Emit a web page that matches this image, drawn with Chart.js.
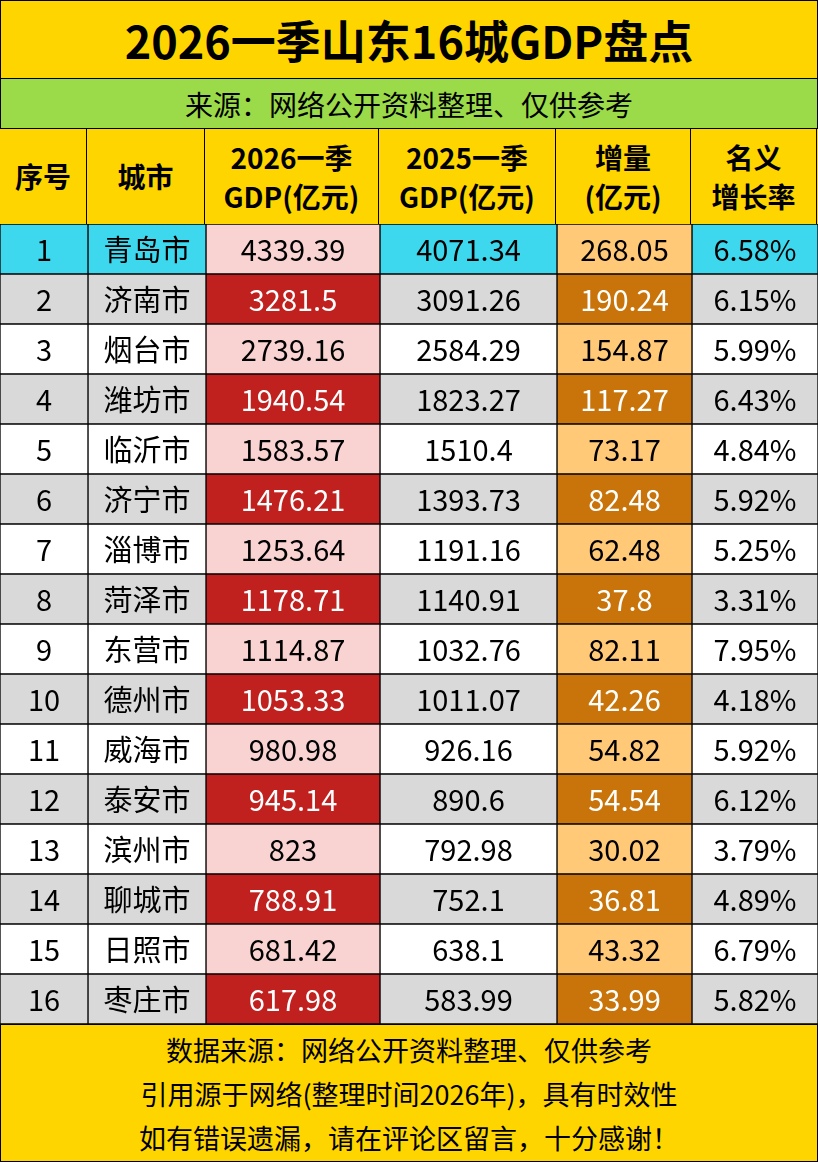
<!DOCTYPE html>
<html><head><meta charset="utf-8">
<script src="https://cdn.jsdelivr.net/npm/chart.js@4"></script>
<style>
body{margin:0;width:818px;height:1162px;background:#FFD500;font-family:"Noto Sans CJK SC","Noto Sans",sans-serif;position:relative;overflow:hidden}
.box{position:absolute;left:0;width:816px;border:1px solid #000;box-sizing:border-box;display:flex;align-items:center;justify-content:center;color:#000}
#title{top:0;height:79px;background:#FFD500;font-weight:bold;font-size:45px;width:818px}
#src{top:78px;height:51px;background:#9BDA48;font-size:28px;width:818px}
#hdr{position:absolute;top:128px;left:0;height:97px;width:818px;display:flex}
#hdr div{border:1px solid #000;box-sizing:border-box;margin-left:-1px;display:flex;align-items:center;justify-content:center;text-align:center;font-weight:bold;font-size:28px;line-height:39px;background:#FFD500}
#foot{position:absolute;top:1024px;left:0;width:818px;height:138px;border:1px solid #000;box-sizing:border-box;text-align:center;font-size:27px;line-height:44px;padding-top:3px}
#cv{position:absolute;top:224px;left:0}
</style></head><body>
<div class="box" id="title">2026一季山东16城GDP盘点</div>
<div class="box" id="src">来源：网络公开资料整理、仅供参考</div>
<div id="hdr"></div>
<canvas id="cv" width="818" height="800"></canvas>
<div id="foot">数据来源：网络公开资料整理、仅供参考<br>引用源于网络(整理时间2026年)，具有时效性<br>如有错误遗漏，请在评论区留言，十分感谢！</div>
<script>
const headers=["序号","城市","2026一季<br>GDP(亿元)","2025一季<br>GDP(亿元)","增量<br>(亿元)","名义<br>增长率"];
const ranks=["1","2","3","4","5","6","7","8","9","10","11","12","13","14","15","16"];
const cities=["青岛市","济南市","烟台市","潍坊市","临沂市","济宁市","淄博市","菏泽市","东营市","德州市","威海市","泰安市","滨州市","聊城市","日照市","枣庄市"];
const gdp2026=["4339.39","3281.5","2739.16","1940.54","1583.57","1476.21","1253.64","1178.71","1114.87","1053.33","980.98","945.14","823","788.91","681.42","617.98"];
const gdp2025=["4071.34","3091.26","2584.29","1823.27","1510.4","1393.73","1191.16","1140.91","1032.76","1011.07","926.16","890.6","792.98","752.1","638.1","583.99"];
const increase=["268.05","190.24","154.87","117.27","73.17","82.48","62.48","37.8","82.11","42.26","54.82","54.54","30.02","36.81","43.32","33.99"];
const growth=["6.58%","6.15%","5.99%","6.43%","4.84%","5.92%","5.25%","3.31%","7.95%","4.18%","5.92%","6.12%","3.79%","4.89%","6.79%","5.82%"];
const colWidths=[88,118,174,177,135,126];

const hdr=document.getElementById('hdr');
headers.forEach((h,i)=>{const d=document.createElement('div');d.style.width=(colWidths[i]+(i?1:0))+'px';d.innerHTML=h;hdr.appendChild(d);});

const columns=[ranks,cities,gdp2026,gdp2025,increase,growth];
const CY='#3DD8EE',GR='#D9D9D9',WH='#FFFFFF',PK='#F9D3D1',RD='#C0201E',LO='#FFC978',DO='#C8740A';
function cellColor(c,r){
  if(r===0){return c===2?PK:(c===4?LO:CY);}
  const even=r%2===1;
  if(c===2)return even?RD:PK;
  if(c===4)return even?DO:LO;
  return even?GR:WH;
}
function textColor(c,r){return (r%2===1&&(c===2||c===4))?'#FFFFFF':'#000000';}
const datasets=columns.map((col,c)=>({
  label:headers[c],
  data:col.map(()=>colWidths[c]),
  texts:col,
  backgroundColor:col.map((_,r)=>cellColor(c,r)),
  borderColor:'#000',borderWidth:1,borderSkipped:false,
  barPercentage:1,categoryPercentage:1
}));
const textPlugin={id:'txt',afterDatasetsDraw(chart){
  const ctx=chart.ctx;ctx.save();ctx.textAlign='center';ctx.textBaseline='middle';
  ctx.font='29px "Noto Sans CJK SC","Noto Sans",sans-serif';
  chart.data.datasets.forEach((ds,c)=>{
    chart.getDatasetMeta(c).data.forEach((el,r)=>{
      ctx.fillStyle=textColor(c,r);
      ctx.fillText(ds.texts[r],el.base+(el.x-el.base)/2,el.y+1);
    });
  });
  ctx.restore();
}};
new Chart(document.getElementById('cv'),{
  type:'bar',
  data:{labels:cities,datasets},
  options:{indexAxis:'y',responsive:false,animation:false,
    layout:{padding:0},
    plugins:{legend:{display:false},tooltip:{enabled:false}},
    scales:{x:{stacked:true,display:false,min:0,max:818},y:{stacked:true,display:false}}},
  plugins:[textPlugin]
});
</script>
</body></html>
